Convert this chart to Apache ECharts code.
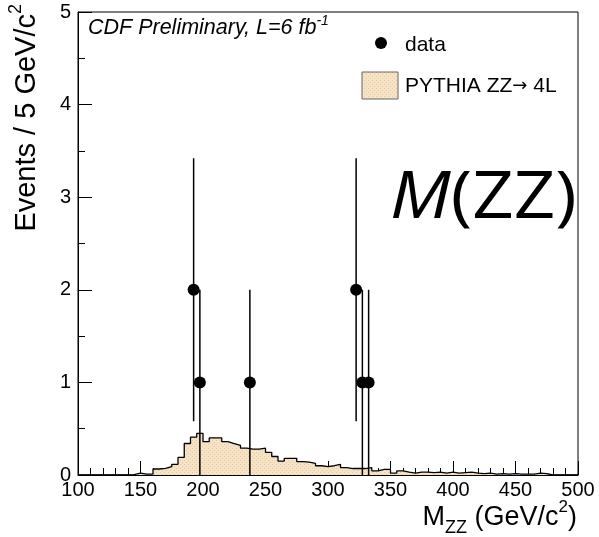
<!DOCTYPE html>
<html><head><meta charset="utf-8">
<script src="https://cdn.jsdelivr.net/npm/echarts@6/dist/echarts.min.js"></script>
<style>html,body{margin:0;padding:0;background:#fff}#c{width:599px;height:537px}</style>
</head><body><div id="c"></div>
<script>
// ---- data ----
const binStart = [100,105,110,115,120,125,130,135,140,145,150,155,160,165,170,175,180,185,190,195,
  200,205,210,215,220,225,230,235,240,245,250,255,260,265,270,275,280,285,290,295,
  300,305,310,315,320,325,330,335,340,345,350,355,360,365,370,375,380,385,390,395,
  400,405,410,415,420,425,430,435,440,445,450,455,460,465,470,475,480,485,490,495];
const binEndLast = 500;
const mcHeights = [0,0,0,0,0,0,0,0,0.005,0.02,0.01,0.01,0.065,0.072,0.09,0.115,0.19,0.34,0.41,0.45,
  0.36,0.40,0.40,0.36,0.34,0.32,0.29,0.28,0.28,0.29,0.245,0.20,0.15,0.18,0.18,0.145,0.14,0.125,0.10,0.09,
  0.10,0.115,0.08,0.07,0.07,0.07,0.08,0.045,0.06,0.06,0.02,0.045,0.03,0.02,0.03,0.03,0.025,0.03,0.02,0.03,
  0.02,0.025,0.03,0.02,0.015,0.02,0.01,0.015,0.01,0.015,0.01,0.01,0.01,0.02,0.015,0,0,0,0,0];
const dataX = [192.5,197.5,237.5,322.5,327.5,332.5];
const dataY = [2,1,1,2,1,1];
const errLow = [0.58,0,0,0.58,0,0];
const errHigh = [3.42,2,2,3.42,2,2];
const xTicks = {min:100, max:500, interval:50};
const yTicks = {min:0, max:5, interval:1};

// ---- style helpers ----
function makePattern(){
  const c=document.createElement('canvas');c.width=4;c.height=4;
  const g=c.getContext('2d');
  g.fillStyle='#f6e3c6';g.fillRect(0,0,4,4);
  g.fillStyle='#e6caa0';g.fillRect(0,0,1,1);g.fillRect(2,2,1,1);
  return c;
}
const pat = makePattern();
const FONT = 'Liberation Sans, Arial, sans-serif';

const histData = binStart.map((x,i)=>[x, mcHeights[i]]);
histData.push([binEndLast, mcHeights[mcHeights.length-1]]);

const chart = echarts.init(document.getElementById('c'), null, {renderer:'canvas'});
chart.setOption({
  animation:false,
  backgroundColor:'#fff',
  grid:{left:78, right:21, top:12, bottom:62, show:true, borderColor:'#000', borderWidth:1, backgroundColor:'transparent', outerBoundsMode:'none', containLabel:false},
  xAxis:{type:'value', min:xTicks.min, max:xTicks.max, interval:xTicks.interval,
    axisLine:{show:true, onZero:false, lineStyle:{color:'#000', width:1}},
    axisTick:{show:true, inside:true, length:14, lineStyle:{color:'#000'}},
    minorTick:{show:true, splitNumber:5, length:7, lineStyle:{color:'#000'}},
    splitLine:{show:false}, minorSplitLine:{show:false},
    axisLabel:{color:'#000', fontSize:20, fontFamily:FONT, margin:5, showMinLabel:true, showMaxLabel:true, hideOverlap:false}},
  yAxis:{type:'value', min:yTicks.min, max:yTicks.max, interval:yTicks.interval,
    axisLine:{show:true, onZero:false, lineStyle:{color:'#000', width:1}},
    axisTick:{show:true, inside:true, length:14, lineStyle:{color:'#000'}},
    minorTick:{show:true, splitNumber:2, length:7, lineStyle:{color:'#000'}},
    splitLine:{show:false}, minorSplitLine:{show:false},
    axisLabel:{color:'#000', fontSize:20, fontFamily:FONT, margin:7, hideOverlap:false}},
  series:[
    {name:'PYTHIA ZZ → 4L', type:'line', step:'end', data:histData, showSymbol:false, symbol:'none',
     lineStyle:{color:'#000', width:1.3}, areaStyle:{color:{image:pat, repeat:'repeat'}, opacity:1, origin:'start'}, z:2, silent:true},
    {name:'errors', type:'custom', data:dataX.map((x,i)=>[x, errLow[i], errHigh[i]]),
     encode:{x:0, y:[1,2]}, z:3, silent:true,
     renderItem:(params, api)=>{
       const p1=api.coord([api.value(0), api.value(1)]);
       const p2=api.coord([api.value(0), api.value(2)]);
       return {type:'line', shape:{x1:p1[0],y1:p1[1],x2:p2[0],y2:p2[1]}, style:{stroke:'#000', lineWidth:1.5}};
     }},
    {name:'data', type:'scatter', data:dataX.map((x,i)=>[x, dataY[i]]), symbol:'circle', symbolSize:12,
     itemStyle:{color:'#000', opacity:1}, z:4, silent:true}
  ],
  graphic:[
    {type:'text', x:88, y:28, style:{text:'{t|CDF Preliminary, L=6 fb}{s|-1}', fill:'#000', verticalAlign:'middle',
      rich:{t:{fontSize:21.5, fontStyle:'italic', fontFamily:FONT, lineHeight:28}, s:{fontSize:14, fontStyle:'italic', fontFamily:FONT, lineHeight:14, verticalAlign:'top'}}}},
    {type:'circle', shape:{cx:381, cy:43, r:6}, style:{fill:'#000'}},
    {type:'text', x:405, y:45, style:{text:'data', fontSize:21, fontFamily:FONT, fill:'#000', verticalAlign:'middle'}},
    {type:'rect', shape:{x:362, y:72, width:36, height:27}, style:{fill:{image:pat, repeat:'repeat'}, stroke:'#666', lineWidth:1}},
    {type:'text', x:405, y:86, style:{text:'{a|PYTHIA ZZ}{b|→}{a| 4L}', fill:'#000', verticalAlign:'middle',
      rich:{a:{fontSize:21, fontFamily:FONT}, b:{fontSize:18, fontFamily:'DejaVu Sans'}}}},
    {type:'text', x:390, y:199, scaleX:1.1, style:{text:'{m|M}{n|(ZZ)}', fill:'#000', verticalAlign:'middle',
      rich:{m:{fontSize:66, fontStyle:'italic', fontFamily:'Open Sans'}, n:{fontSize:66, fontFamily:'Open Sans'}}}},
    {type:'text', x:27, y:4, rotation:Math.PI/2, style:{text:'{t|Events / 5 GeV/c}{s|2}', fill:'#000', align:'right', verticalAlign:'middle',
      rich:{t:{fontSize:29, fontFamily:FONT, lineHeight:40}, s:{fontSize:18, fontFamily:FONT, lineHeight:18, verticalAlign:'top'}}}},
    {type:'text', x:577, y:518, style:{text:'{t|M}{b|ZZ}{t| (GeV/c}{s|2}{t|)}', fill:'#000', align:'right', verticalAlign:'middle',
      rich:{t:{fontSize:27, fontFamily:FONT, lineHeight:38}, b:{fontSize:18, fontFamily:FONT, lineHeight:18, verticalAlign:'bottom'}, s:{fontSize:17, fontFamily:FONT, lineHeight:17, verticalAlign:'top'}}}}
  ]
});
</script></body></html>
